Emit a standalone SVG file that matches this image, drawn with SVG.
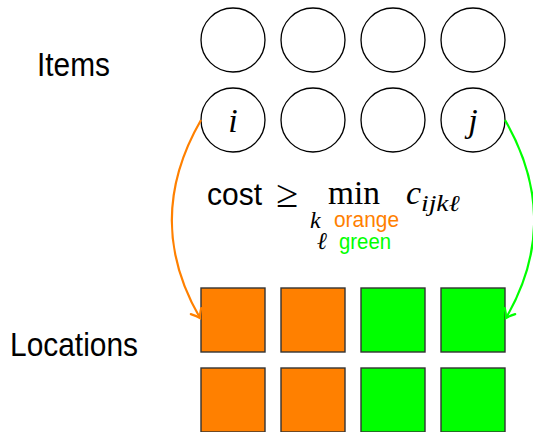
<svg xmlns="http://www.w3.org/2000/svg" width="533" height="432" viewBox="0 0 533 432">
  <style>
    .item { fill: #ffffff; stroke: #000000; stroke-width: 1.3; }
    .loc { stroke: #333333; stroke-width: 1.4; }
    .orange { fill: #ff8000; }
    .green { fill: #00ff00; }
    .sans { font-family: "Liberation Sans", "DejaVu Sans", sans-serif; }
    .serif { font-family: "Liberation Serif", "DejaVu Serif", serif; }
    .it { font-family: "Liberation Serif", "DejaVu Serif", serif; font-style: italic; }
    .edge { fill: none; stroke-width: 2.2; }
  </style>
  <defs>
    <marker id="tipO" markerUnits="userSpaceOnUse" viewBox="-10 -8 12 16" markerWidth="12" markerHeight="16" refX="0" refY="0" orient="auto">
      <path d="M -8 -6 Q -3 -1.5 0 0 Q -3 1.5 -8 6" fill="none" stroke="#ff8000" stroke-width="2.2" stroke-linecap="round"/>
    </marker>
    <marker id="tipG" markerUnits="userSpaceOnUse" viewBox="-10 -8 12 16" markerWidth="12" markerHeight="16" refX="0" refY="0" orient="auto">
      <path d="M -8 -6 Q -3 -1.5 0 0 Q -3 1.5 -8 6" fill="none" stroke="#00ff00" stroke-width="2.2" stroke-linecap="round"/>
    </marker>
  </defs>

  <!-- row labels -->
  <text class="sans" x="37" y="76" font-size="33" textLength="73" lengthAdjust="spacingAndGlyphs">Items</text>
  <text class="sans" x="10" y="356" font-size="33" textLength="128" lengthAdjust="spacingAndGlyphs">Locations</text>

  <!-- items, top row -->
  <g id="item-1-1"><circle class="item" cx="233" cy="40" r="32"/></g>
  <g id="item-1-2"><circle class="item" cx="313" cy="40" r="32"/></g>
  <g id="item-1-3"><circle class="item" cx="393" cy="40" r="32"/></g>
  <g id="item-1-4"><circle class="item" cx="473" cy="40" r="32"/></g>

  <!-- items, second row -->
  <g id="item-i">
    <circle class="item" cx="233" cy="120" r="32"/>
    <text class="it" x="233" y="132" font-size="34" text-anchor="middle">i</text>
  </g>
  <g id="item-2-2"><circle class="item" cx="313" cy="120" r="32"/></g>
  <g id="item-2-3"><circle class="item" cx="393" cy="120" r="32"/></g>
  <g id="item-j">
    <circle class="item" cx="473" cy="120" r="32"/>
    <text class="it" x="473" y="132" font-size="34" text-anchor="middle">j</text>
  </g>

  <!-- locations -->
  <g id="loc-1-1"><rect class="loc orange" x="201" y="288" width="64" height="64"/></g>
  <g id="loc-1-2"><rect class="loc orange" x="281" y="288" width="64" height="64"/></g>
  <g id="loc-1-3"><rect class="loc green" x="361" y="288" width="64" height="64"/></g>
  <g id="loc-1-4"><rect class="loc green" x="441" y="288" width="64" height="64"/></g>
  <g id="loc-2-1"><rect class="loc orange" x="201" y="368" width="64" height="64"/></g>
  <g id="loc-2-2"><rect class="loc orange" x="281" y="368" width="64" height="64"/></g>
  <g id="loc-2-3"><rect class="loc green" x="361" y="368" width="64" height="64"/></g>
  <g id="loc-2-4"><rect class="loc green" x="441" y="368" width="64" height="64"/></g>

  <!-- cost formula -->
  <g id="formula">
    <text class="sans" x="207" y="205" font-size="31" textLength="55" lengthAdjust="spacingAndGlyphs">cost</text>
    <text class="serif" x="276" y="207" font-size="39" textLength="22" lengthAdjust="spacingAndGlyphs">≥</text>
    <text class="serif" x="328" y="204" font-size="34" textLength="52" lengthAdjust="spacingAndGlyphs">min</text>
    <text class="it" x="406" y="204" font-size="34">c</text>
    <text class="it" x="421" y="211" font-size="23" textLength="39" lengthAdjust="spacingAndGlyphs">ijkℓ</text>
    <text class="it" x="310" y="228" font-size="24">k</text>
    <text class="sans" x="334" y="227" font-size="22" fill="#ff8000" textLength="65" lengthAdjust="spacingAndGlyphs">orange</text>
    <text class="it" x="317" y="249" font-size="24">ℓ</text>
    <text class="sans" x="339" y="249" font-size="22" fill="#00ff00" textLength="52" lengthAdjust="spacingAndGlyphs">green</text>
  </g>

  <!-- assignment connectors -->
  <g id="connectors">
    <path class="edge" stroke="#ff8000" d="M 201 120 C 162 187.5 162 252.5 200 318" marker-end="url(#tipO)"/>
    <path class="edge" stroke="#00ff00" d="M 505 120 C 544 187.5 544 252.5 506 318" marker-end="url(#tipG)"/>
  </g>
</svg>
